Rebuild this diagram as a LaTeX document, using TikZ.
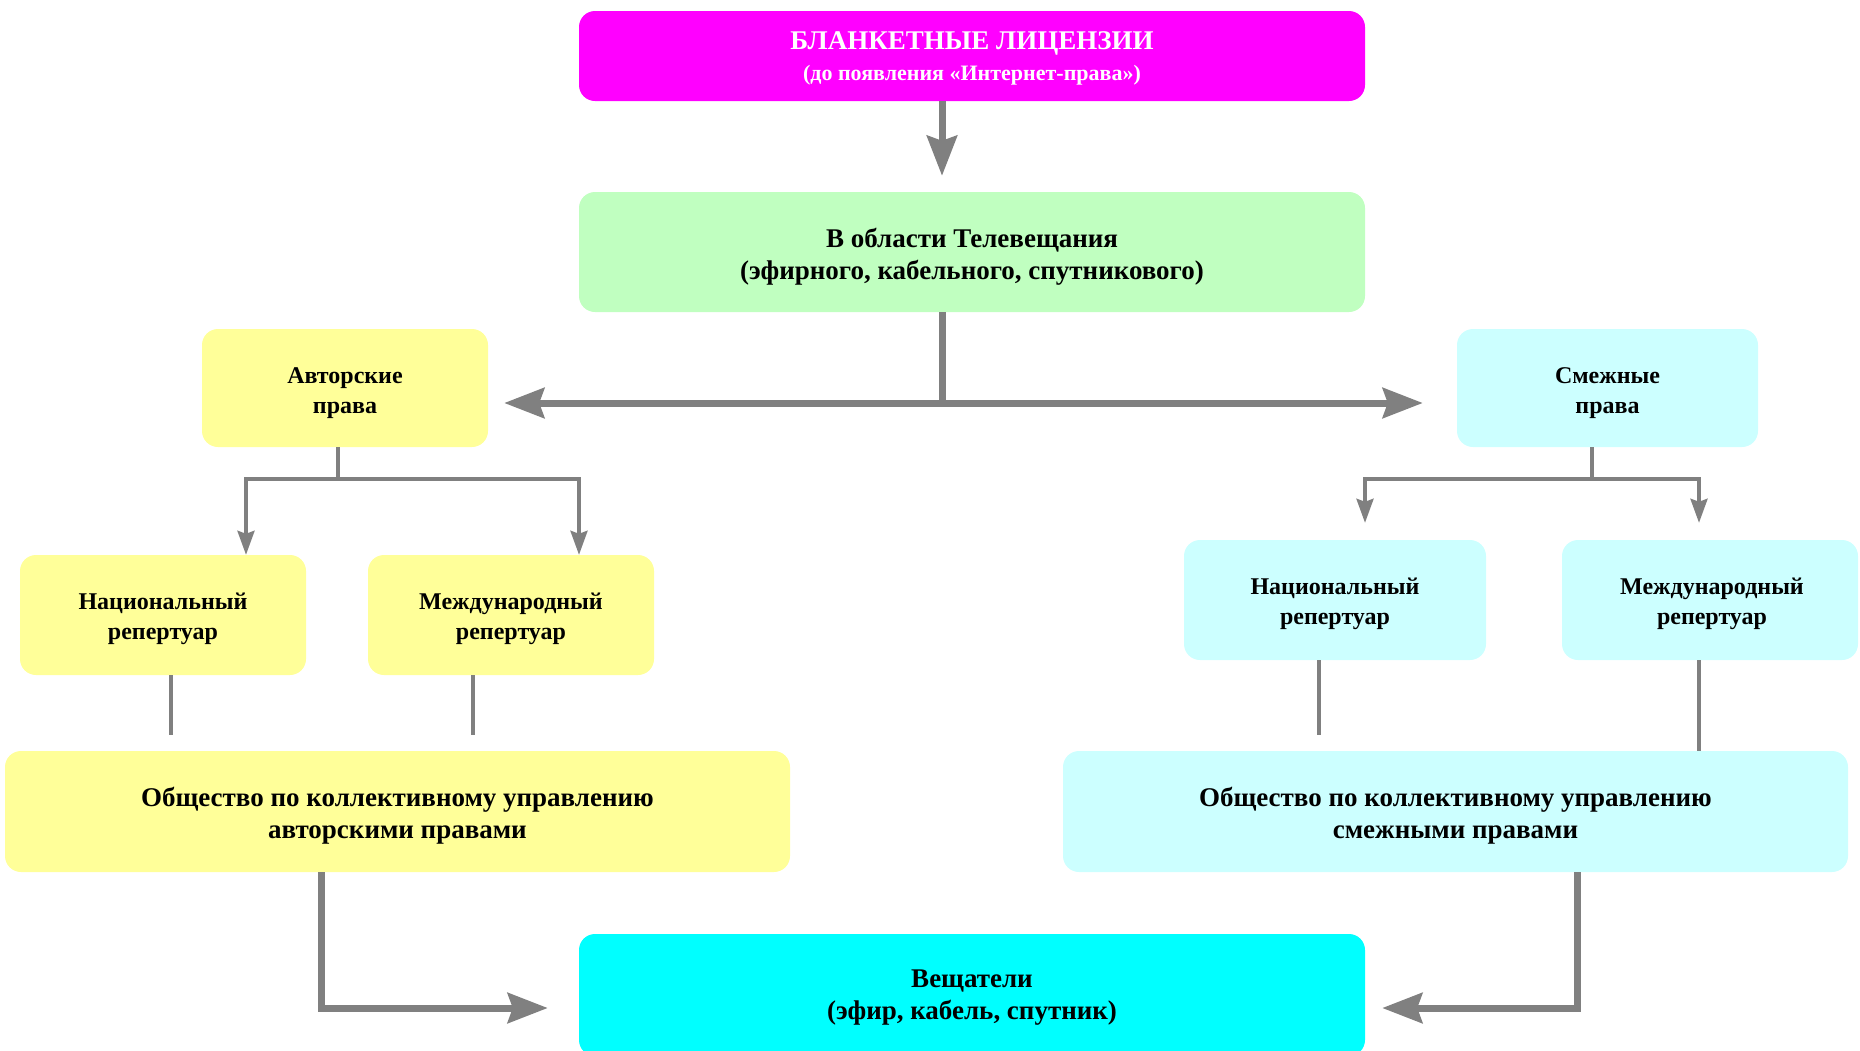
\documentclass[tikz,border=0pt]{standalone}
\usepackage{fontspec}
\setmainfont{Liberation Serif}
\usetikzlibrary{arrows.meta,calc}
\definecolor{cMag}{HTML}{FF00FF}
\definecolor{cGreen}{HTML}{C0FFC0}
\definecolor{cYel}{HTML}{FFFF99}
\definecolor{cLCyan}{HTML}{CCFFFF}
\definecolor{cCyan}{HTML}{00FFFF}
\definecolor{arrowgray}{HTML}{808080}
\begin{document}
\begin{tikzpicture}[x=1pt,y=-1pt,
  box/.style={rounded corners=16pt, draw=none, inner sep=0pt},
  bigtxt/.style={align=center, inner sep=0pt, font=\bfseries\fontsize{27}{32}\selectfont},
  smtxt/.style={align=center, inner sep=0pt, font=\bfseries\fontsize{24}{30}\selectfont},
  bigline/.style={draw=arrowgray, line width=7pt},
  bigarrow/.style={bigline, -{Stealth[length=40pt,width=30pt,inset=5pt]}},
  smline/.style={draw=arrowgray, line width=3.5pt},
  smarrow/.style={smline, -{Stealth[length=24pt,width=17pt,inset=3pt]}},
]
\useasboundingbox (0,0) rectangle (1860,1050);

% boxes
\node[box, fill=cMag, minimum width=786pt, minimum height=90pt] (top) at (972,56) {};
\node[box, fill=cGreen, minimum width=786pt, minimum height=120pt] (tv) at (972,252) {};
\node[box, fill=cYel, minimum width=286pt, minimum height=118pt] (aut) at (345,388) {};
\node[box, fill=cLCyan, minimum width=301pt, minimum height=118pt] (sm) at (1607.5,388) {};
\node[box, fill=cYel, minimum width=286pt, minimum height=120pt] (natL) at (163,615) {};
\node[box, fill=cYel, minimum width=286pt, minimum height=120pt] (intL) at (511,615) {};
\node[box, fill=cLCyan, minimum width=302pt, minimum height=120pt] (natR) at (1335,600) {};
\node[box, fill=cLCyan, minimum width=296pt, minimum height=120pt] (intR) at (1710,600) {};
\node[box, fill=cYel, minimum width=785pt, minimum height=121pt] (socL) at (397.5,811.5) {};
\node[box, fill=cLCyan, minimum width=785pt, minimum height=121pt] (socR) at (1455.5,811.5) {};
\node[box, fill=cCyan, minimum width=786pt, minimum height=122pt] (bc) at (972,995) {};

% texts
\node[text=white, align=center, inner sep=0pt, font=\bfseries] (topt) at (972,58)
  {\fontsize{27}{33}\selectfont БЛАНКЕТНЫЕ ЛИЦЕНЗИИ\\[9pt] \fontsize{22}{33}\selectfont (до появления «Интернет-права»)};
\node[bigtxt] (tvt) at (972,256.5) {В области Телевещания\\(эфирного, кабельного, спутникового)};
\node[smtxt] (autt) at (345,393) {Авторские\\права};
\node[smtxt] (smt) at (1607.5,393) {Смежные\\права};
\node[smtxt] (natLt) at (163,619) {Национальный\\репертуар};
\node[smtxt] (intLt) at (511,619) {Международный\\репертуар};
\node[smtxt] (natRt) at (1335,603.5) {Национальный\\репертуар};
\node[smtxt] (intRt) at (1712,603.5) {Международный\\репертуар};
\node[bigtxt] (socLt) at (397.5,815.5) {Общество по коллективному управлению\\авторскими правами};
\node[bigtxt] (socRt) at (1455.5,815.5) {Общество по коллективному управлению\\смежными правами};
\node[bigtxt] (bct) at (972,998) {Вещатели\\(эфир, кабель, спутник)};

% helper coordinates
\coordinate (cx) at (942,0);
\coordinate (hy) at (0,403);
\coordinate (aJ) at (338,479);
\coordinate (aL) at (246,0);
\coordinate (aR) at (579,0);
\coordinate (sJ) at (1592,479);
\coordinate (sL) at (1365,0);
\coordinate (sR) at (1699,0);
\coordinate (vL1) at (171,0);
\coordinate (vL2) at (473,0);
\coordinate (vR1) at (1319,0);
\coordinate (vR2) at (1699,0);
\coordinate (dL) at (321,1008);
\coordinate (dR) at (1577,1008);

% top arrow
\draw[bigarrow, shorten >=16pt] (top.south -| cx) -- (tv.north -| cx);
% split arrow
\draw[bigline] (tv.south -| cx) -- (cx |- hy) coordinate (J);
\draw[bigarrow, shorten >=16pt] (J) -- (aut.east |- hy);
\draw[bigarrow, shorten >=34pt] (J) -- (sm.west |- hy);

% authors branch
\draw[smline] (aut.south -| aJ) -- (aJ);
\draw[smarrow] (aJ) -| (natL.north -| aL);
\draw[smarrow] (aJ) -| (intL.north -| aR);
% related branch
\draw[smline] (sm.south -| sJ) -- (sJ);
\draw[smarrow, shorten >=17pt] (sJ) -| (natR.north -| sL);
\draw[smarrow, shorten >=17pt] (sJ) -| (intR.north -| sR);

% repertoire to societies
\draw[smline, shorten >=16pt] (natL.south -| vL1) -- (socL.north -| vL1);
\draw[smline, shorten >=16pt] (intL.south -| vL2) -- (socL.north -| vL2);
\draw[smline, shorten >=16pt] (natR.south -| vR1) -- (socR.north -| vR1);
\draw[smline] (intR.south -| vR2) -- (socR.north -| vR2);

% societies to broadcasters
\draw[bigarrow, shorten >=31pt] (socL.south -| dL) |- (bc.west |- dL);
\draw[bigarrow, shorten >=17pt] (socR.south -| dR) |- (bc.east |- dR);
\end{tikzpicture}
\end{document}
